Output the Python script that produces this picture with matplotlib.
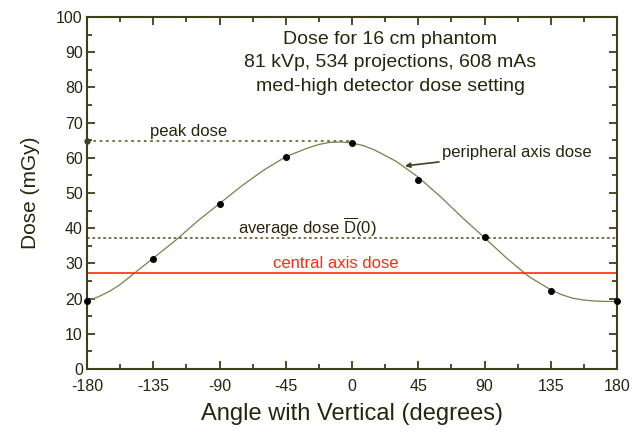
import matplotlib.pyplot as plt
import numpy as np

# ----- Matplotlib settings -----
plt.rcParams["font.family"] = "Liberation Sans"
plt.rcParams["mathtext.fontset"] = "custom"
plt.rcParams["mathtext.rm"] = "Liberation Sans"
plt.rcParams["axes.unicode_minus"] = False

TEXT_COLOR = "#26260e"
AXIS_COLOR = "#3f3f1c"
CURVE_COLOR = "#7d7d4c"
RED = "#ff2a10"

# measured points (peripheral axis dose)
angles = [-180, -135, -90, -45, 0, 45, 90, 135, 180]
dose = [19.3, 31.2, 46.9, 60.2, 64.1, 53.7, 37.5, 22.3, 19.2]

# fitted curve
curve_angles = [-180, -172.5, -165, -157.5, -150, -135, -120, -105, -90, -75, -60,
                -45, -30, -22.5, -15, -7.5, 0, 7.5, 15, 30, 45, 60, 75, 90, 105,
                120, 135, 142.5, 150, 157.5, 165, 172.5, 180]
curve_dose = [19.3, 20.5, 22.0, 24.0, 26.5, 31.5, 36.5, 42.0, 47.0, 52.0, 56.5,
              60.3, 62.8, 63.8, 64.4, 64.5, 64.2, 63.5, 62.3, 59.0, 54.5, 49.0, 43.0,
              37.3, 31.5, 26.3, 22.5, 21.1, 20.1, 19.6, 19.3, 19.2, 19.2]

peak_dose = 64.7
average_dose = 37.2
central_dose = 27.4

fig = plt.figure(figsize=(6.37, 4.32), dpi=100)
ax = fig.add_axes([0.1366, 0.1458, 0.832, 0.8148])

ax.plot(curve_angles, curve_dose, color=CURVE_COLOR, lw=0.9)
ax.plot(angles, dose, "o", color="black", ms=4, clip_on=False, zorder=5)

ax.plot([-180, 0], [peak_dose, peak_dose], ls=(0, (1.5, 2)), color="#6b6b3a", lw=1.3)
ax.plot([-180], [peak_dose], "o", color=AXIS_COLOR, ms=3.5, clip_on=False)
ax.axhline(average_dose, ls=(0, (1.5, 1.5)), color="#6b6b3a", lw=1.3)
ax.axhline(central_dose, color=RED, lw=1.2)

ax.set_xlim(-180, 180)
ax.set_ylim(0, 100)
ax.set_xticks(np.arange(-180, 181, 45))
ax.set_xticks(np.arange(-180, 181, 22.5), minor=True)
ax.set_yticks(np.arange(0, 101, 10))
ax.set_yticks(np.arange(0, 101, 5), minor=True)
ax.tick_params(which="both", direction="in", top=True, right=True,
               color=AXIS_COLOR, labelcolor=TEXT_COLOR, labelsize=11.5, width=1.3)
ax.tick_params(which="major", length=6)
ax.tick_params(which="minor", length=3.5)
ax.tick_params(axis="x", pad=7)
ax.tick_params(axis="y", pad=3)
for s in ax.spines.values():
    s.set_color(AXIS_COLOR)
    s.set_linewidth(1.5)

ax.set_xlabel("Angle with Vertical (degrees)", fontsize=17, color=TEXT_COLOR, labelpad=7)
ax.set_ylabel("Dose (mGy)", fontsize=15, color=TEXT_COLOR, labelpad=12)

title_lines = ["Dose for 16 cm phantom",
               "81 kVp, 534 projections, 608 mAs",
               "med-high detector dose setting"]
title_y = [0.935, 0.872, 0.804]
for line, y in zip(title_lines, title_y):
    ax.text(0.572, y, line, transform=ax.transAxes, ha="center",
            va="center", fontsize=14, color=TEXT_COLOR)

ax.text(-137, 67.6, "peak dose", fontsize=12, color=TEXT_COLOR, va="center")
ax.text(-77.5, 40.3, r"average dose $\overline{\mathrm{D}}$(0)", fontsize=12,
        color=TEXT_COLOR, va="center")
ax.text(-53.5, 30.1, "central axis dose", fontsize=12, color=RED, va="center")
ax.annotate("peripheral axis dose", xy=(36, 57.7), xytext=(61, 61.4),
            fontsize=12, color=TEXT_COLOR, va="center",
            arrowprops=dict(arrowstyle="-|>", color=AXIS_COLOR, lw=1.2,
                            mutation_scale=7, shrinkA=0, shrinkB=0))

plt.savefig("out.png", dpi=100)
